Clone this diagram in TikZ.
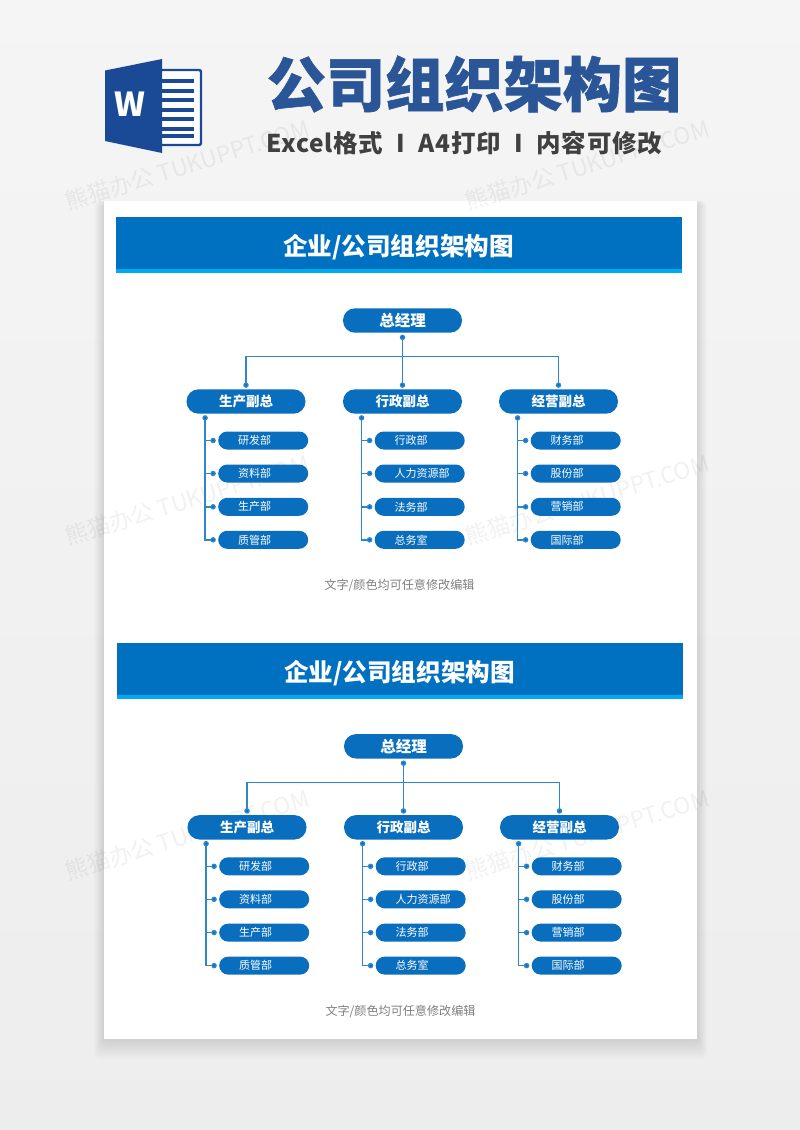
\documentclass[tikz,border=0pt]{standalone}
\usepackage{fontspec}
\setmainfont{Noto Sans CJK SC}
\newfontfamily\heavyfont[BoldFeatures={FakeBold=1}]{Noto Sans CJK SC}
\newfontfamily\subfont[LetterSpace=3]{Noto Sans CJK SC}
\usetikzlibrary{arrows.meta,calc}
\definecolor{pillblue}{HTML}{0A6EBF}
\definecolor{headblue}{HTML}{0070C0}
\definecolor{stripblue}{HTML}{00AAF0}
\definecolor{linkblue}{HTML}{2F86CC}
\definecolor{titleblue}{HTML}{2A5597}
\definecolor{wordblue}{HTML}{1A4A96}
\definecolor{subgray}{HTML}{404040}
\definecolor{notegray}{HTML}{808080}
\newcommand{\fsz}[1]{\fontsize{#1}{#1}\selectfont}
\tikzset{
  toppill/.style={fill=pillblue,text=white,rounded corners=12pt,minimum width=119pt,minimum height=24.4pt,inner sep=0pt,font=\bfseries\fsz{15.5}},
  vppill/.style={toppill,font=\bfseries\fsz{13.5}},
  subpill/.style={fill=pillblue,text=white,rounded corners=9pt,minimum width=90pt,minimum height=18pt,inner sep=0pt,text width=90pt,align=left,font=\fsz{11}},
  link/.style={draw=linkblue,line width=1.4pt},
  dotend/.style={link,-{Circle[length=5.4pt,width=5.4pt,fill=pillblue]}},
  dotboth/.style={link,{Circle[length=5.4pt,width=5.4pt,fill=pillblue]}-{Circle[length=5.4pt,width=5.4pt,fill=pillblue]}},
  headbar/.style={fill=headblue,draw=none},
  stripbar/.style={fill=stripblue,draw=none},
  mark text/.style={text=black,text opacity=.055,rotate=17,font=\fsz{23}},
}
% one vice-president column: prefix, vp name, vp centre x, four departments
\newcommand{\vpcolumn}[7]{%
  \node[vppill] (#1) at (#2,401.5) {#3};
  \coordinate (#1t) at ($(#1.south west)+(18.8pt,-1.3pt)$);
  \node[subpill,anchor=west] (#1a) at ($(#2,440.5)+(-28pt,0)$) {\hspace*{20pt}#4};
  \node[subpill,anchor=west] (#1b) at ($(#2,473.5)+(-28pt,0)$) {\hspace*{20pt}#5};
  \node[subpill,anchor=west] (#1c) at ($(#2,506.8)+(-28pt,0)$) {\hspace*{20pt}#6};
  \node[subpill,anchor=west] (#1d) at ($(#2,539.8)+(-28pt,0)$) {\hspace*{20pt}#7};
  \draw[dotboth] (#1t) |- ([xshift=-2.2pt]#1d.west);
  \draw[dotend] (#1t |- #1a.west) -- ([xshift=-2.2pt]#1a.west);
  \draw[dotend] (#1t |- #1b.west) -- ([xshift=-2.2pt]#1b.west);
  \draw[dotend] (#1t |- #1c.west) -- ([xshift=-2.2pt]#1c.west);
}
% one whole chart, drawn in the coordinates of the upper one
\newcommand{\orgchart}[1]{%
  \fill[headbar] (116,217) rectangle (682,269);
  \fill[stripbar] (116,269) rectangle (682,273);
  \node[text=white,font=\bfseries\fsz{24.6}] (#1head) at (398.5,247.5) {企业/公司组织架构图};
  \node[toppill] (#1top) at (402.5,320.5) {总经理};
  \vpcolumn{#1l}{246}{生产副总}{研发部}{资料部}{生产部}{质管部}
  \vpcolumn{#1m}{402.5}{行政副总}{行政部}{人力资源部}{法务部}{总务室}
  \vpcolumn{#1r}{558.5}{经营副总}{财务部}{股份部}{营销部}{国际部}
  \coordinate (#1bus) at (402.5,356.5);
  \draw[dotboth] ([yshift=-1.8pt]#1top.south) -- ([yshift=1.3pt]#1m.north);
  \draw[dotboth] ([yshift=1.3pt]#1l.north) |- (#1bus) -| ([yshift=1.3pt]#1r.north);
  \node[text=notegray,font=\fsz{12.1}] (#1note) at (399.5,585.5) {文字/颜色均可任意修改编辑};
}
\begin{document}
\begin{tikzpicture}[x=1pt,y=-1pt]
\useasboundingbox (0,0) rectangle (800,1130);
\shade[top color=black!4,bottom color=black!7] (0,0) rectangle (800,1130);
% card shadow
\foreach \s in {1,2,...,10}
  \fill[black,opacity=.011,rounded corners=6pt] (104-\s,201) rectangle (697+\s,1039+2*\s);
\fill[white] (104,201) rectangle (697,1039);
% watermarks
\foreach \cx/\cy/\n in {187/165/a,587/165/b,187/500/c,587/500/d,187/835/e,587/835/f}
  \node[mark text] (wm\n) at (\cx,\cy) {熊猫办公 TUKUPPT.COM};
% Word icon
\draw[wordblue,line width=2.4pt,rounded corners=2pt,fill=white] (160,70) rectangle (201,145);
\foreach \y in {81,90.5,100,109.5,119,128.5,136}
  \fill[wordblue] (160,\y-2) rectangle (194,\y+2);
\fill[wordblue] (105,70.5) -- (162,59) -- (162,153) -- (105,141) -- cycle;
\node[text=white,font=\bfseries\fsz{33}] (wicon) at (130,104) {W};
% title block
\node[text=titleblue,font=\heavyfont\bfseries\fsz{59.2},inner sep=0pt] (maintitle) at (474,84) {公司组织架构图};
\node[text=subgray,font=\subfont\bfseries\fsz{24.5},inner sep=0pt] (subtitle) at (464.5,143) {Excel格式\hspace{13.5pt}I\hspace{13.5pt}A4打印\hspace{13.5pt}I\hspace{13.5pt}内容可修改};
% the two charts
\orgchart{u}
\begin{scope}[shift={(1,425.8)}]
\orgchart{v}
\end{scope}
\end{tikzpicture}
\end{document}
